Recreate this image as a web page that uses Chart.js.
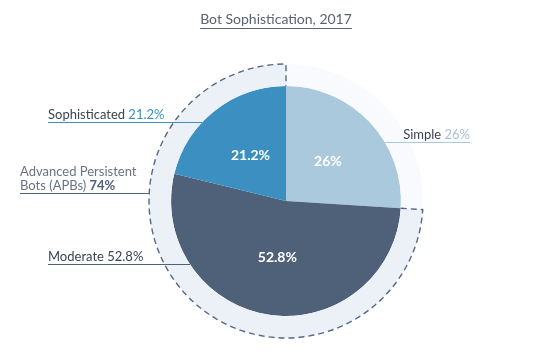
<!DOCTYPE html>
<html>
<head>
<meta charset="utf-8">
<script src="https://cdn.jsdelivr.net/npm/chart.js@4/dist/chart.umd.min.js"></script>
<style>
  html, body { margin: 0; padding: 0; background: #ffffff; }
  #wrap { width: 550px; height: 361px; position: relative; }
</style>
</head>
<body>
<div id="wrap"><canvas id="c"></canvas></div>
<script>
// ---- data ----
const titleText = 'Bot Sophistication, 2017';
const categories = ['Simple', 'Moderate', 'Sophisticated'];
const values = [26, 52.8, 21.2];
const sliceColors = ['#abc9dc', '#4f6178', '#3b8fc1'];
const groupLabels = ['Simple', 'Advanced Persistent Bots (APBs)'];
const groupValues = [26, 74];
const groupColors = ['#f8fafd', '#ecf1f7'];

const FONT = 'Lato, "Open Sans", sans-serif';

const overlay = {
  id: 'overlay',
  afterDatasetsDraw(chart) {
    const ctx = chart.ctx;
    const ring = chart.getDatasetMeta(0).data;
    const pie = chart.getDatasetMeta(1).data;
    const cx = pie[0].x, cy = pie[0].y;
    const R = pie[0].outerRadius;
    const RR = ring[1].outerRadius;

    // dashed outline of APB ring
    const a = ring[1];
    ctx.save();
    ctx.strokeStyle = '#56678a';
    ctx.lineWidth = 1.4;
    ctx.setLineDash([6, 4]);
    ctx.beginPath();
    ctx.moveTo(cx + R * Math.cos(a.startAngle), cy + R * Math.sin(a.startAngle));
    ctx.lineTo(cx + RR * Math.cos(a.startAngle), cy + RR * Math.sin(a.startAngle));
    ctx.arc(cx, cy, RR, a.startAngle, a.endAngle);
    ctx.lineTo(cx + R * Math.cos(a.endAngle), cy + R * Math.sin(a.endAngle));
    ctx.stroke();
    ctx.restore();

    // in-slice values
    ctx.save();
    ctx.fillStyle = '#ffffff';
    ctx.font = 'bold 14px ' + FONT;
    ctx.textAlign = 'center';
    ctx.textBaseline = 'middle';
    pie.forEach((arc, i) => {
      const p = arc.tooltipPosition();
      ctx.fillText(values[i] + '%', p.x, p.y);
    });
    ctx.restore();

    const edgeX = (y, r, side) => cx + side * Math.sqrt(Math.max(r * r - (y - cy) * (y - cy), 0));

    function segs(parts, x, y, align) {
      ctx.textBaseline = 'middle';
      let widths = parts.map(p => { ctx.font = p.f; return ctx.measureText(p.t).width; });
      let total = widths.reduce((s, w) => s + w, 0);
      let sx = align === 'right' ? x - total : x;
      parts.forEach((p, i) => {
        ctx.font = p.f; ctx.fillStyle = p.c; ctx.textAlign = 'left';
        ctx.fillText(p.t, sx, y);
        sx += widths[i];
      });
      return total;
    }
    const reg = '13px ' + FONT;
    const bold = 'bold 13px ' + FONT;

    ctx.save();
    // Sophisticated
    segs([{t: categories[2] + ' ', f: reg, c: '#3c4452'}, {t: values[2] + '%', f: reg, c: '#3b8fc1'}], 48, 115, 'left');
    ctx.strokeStyle = '#3b8fc1'; ctx.lineWidth = 1.2;
    ctx.beginPath(); ctx.moveTo(48, 122.5); ctx.lineTo(edgeX(122.5, R, -1), 122.5); ctx.stroke();

    // APBs
    segs([{t: 'Advanced Persistent', f: reg, c: '#6b7382'}], 20, 172, 'left');
    segs([{t: 'Bots (APBs) ', f: reg, c: '#6b7382'}, {t: groupValues[1] + '%', f: bold, c: '#4f6178'}], 20, 186, 'left');
    ctx.strokeStyle = '#4f6178';
    ctx.beginPath(); ctx.moveTo(20, 193.5); ctx.lineTo(edgeX(193.5, RR, -1), 193.5); ctx.stroke();

    // Moderate
    segs([{t: categories[1] + ' ' + values[1] + '%', f: reg, c: '#3c4452'}], 48, 257, 'left');
    ctx.strokeStyle = '#4f6178';
    ctx.beginPath(); ctx.moveTo(48, 264.5); ctx.lineTo(edgeX(264.5, R, -1), 264.5); ctx.stroke();

    // Simple
    segs([{t: categories[0] + ' ', f: reg, c: '#3c4452'}, {t: values[0] + '%', f: reg, c: '#a9c0d2'}], 470, 135, 'right');
    ctx.strokeStyle = '#abc9dc';
    ctx.beginPath(); ctx.moveTo(edgeX(142.5, R, 1), 142.5); ctx.lineTo(470, 142.5); ctx.stroke();

    // title
    ctx.font = '14px ' + FONT;
    ctx.fillStyle = '#5a6371';
    ctx.textAlign = 'center';
    ctx.textBaseline = 'middle';
    ctx.fillText(titleText, 276, 19);
    const tw = ctx.measureText(titleText).width;
    ctx.strokeStyle = '#5a6371'; ctx.lineWidth = 1;
    ctx.beginPath(); ctx.moveTo(276 - tw / 2, 28.5); ctx.lineTo(276 + tw / 2, 28.5); ctx.stroke();
    ctx.restore();
  }
};

new Chart(document.getElementById('c'), {
  type: 'pie',
  data: {
    labels: categories,
    datasets: [
      { label: 'group', data: groupValues, backgroundColor: groupColors, borderWidth: 0, weight: 22 },
      { label: 'sophistication', data: values, backgroundColor: sliceColors, borderWidth: 0, weight: 115 }
    ]
  },
  options: {
    responsive: true,
    maintainAspectRatio: false,
    animation: false,
    radius: 137,
    layout: { padding: { left: 22, right: 0, top: 41, bottom: 0 } },
    plugins: { legend: { display: false }, tooltip: { enabled: false }, title: { display: false } }
  },
  plugins: [overlay]
});
</script>
</body>
</html>
